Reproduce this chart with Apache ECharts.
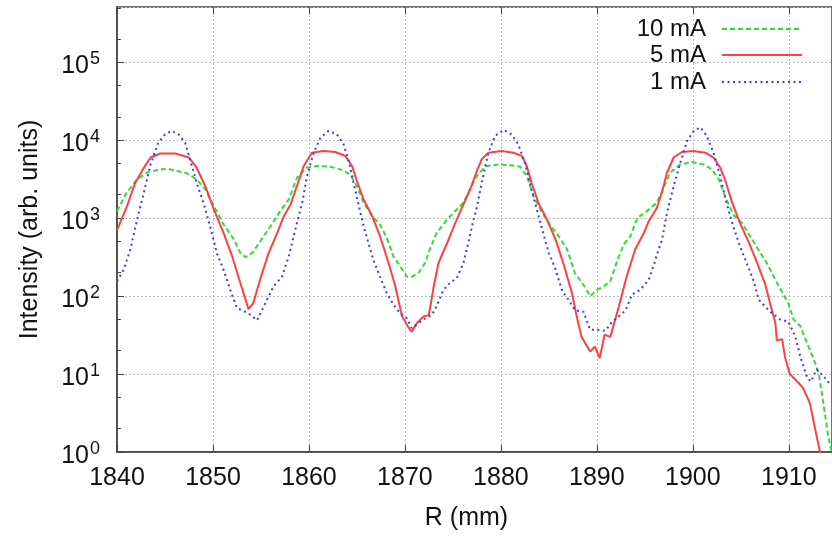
<!DOCTYPE html>
<html>
<head>
<meta charset="utf-8">
<script src="https://cdn.jsdelivr.net/npm/echarts@6/dist/echarts.min.js"></script>
<style>
  html, body { margin: 0; padding: 0; background: #fff; }
  #main { width: 832px; height: 536px; }
</style>
</head>
<body>
<div id="main"></div>
<script>
// R (mm) / intensity pairs
var curve10mA = [
  [1840, 1230], [1841, 2120], [1842.1, 3150], [1843.1, 3820], [1844.2, 4150], [1845.2, 4320],
  [1846.25, 4030], [1847.3, 3760], [1848.3, 3150], [1849.2, 2350], [1850.1, 1430], [1851.1, 830],
  [1852.2, 530], [1852.85, 358], [1853.4, 316], [1854.1, 358], [1854.9, 500], [1856, 790],
  [1857, 1230], [1857.9, 1740], [1858.75, 3300], [1859.8, 4460], [1860.8, 4680], [1862.2, 4570],
  [1863.3, 4230], [1864.3, 3650], [1865, 2570], [1865.7, 1580], [1866.6, 1060], [1867.4, 830],
  [1868.1, 560], [1868.8, 324], [1869.5, 242], [1870.2, 178], [1870.7, 176], [1871.4, 198],
  [1872.1, 266], [1872.6, 400], [1873.3, 646], [1874.4, 960], [1875.4, 1290], [1876.1, 1580],
  [1876.8, 2350], [1877.5, 3500], [1878.4, 4640], [1879.9, 4900], [1881, 4780], [1882, 4570],
  [1882.7, 3470], [1883.4, 1920], [1884.3, 1170], [1885.1, 830], [1886, 590], [1886.9, 400],
  [1887.7, 198], [1888.6, 140], [1889.3, 100], [1890, 120], [1890.7, 133], [1891.4, 155],
  [1892.1, 280], [1892.8, 460], [1893.5, 590], [1894.2, 1000], [1895.2, 1230], [1896.25, 1580],
  [1896.9, 2350], [1897.6, 3800], [1898.7, 4900], [1899.9, 5250], [1901.1, 4900], [1902, 4230],
  [1902.7, 3150], [1903.4, 1830], [1904.25, 1100], [1905.1, 870], [1906, 580], [1906.85, 390],
  [1907.7, 266], [1908.6, 162], [1909.45, 104], [1909.95, 81], [1910.5, 50], [1911.2, 41],
  [1911.9, 25], [1912.6, 15.5], [1913.1, 10.5], [1913.6, 4.3], [1914.1, 1.6], [1914.5, 0.95],
  [1914.8, 0.5]
];
var curve5mA = [
  [1840, 700], [1841.04, 1430], [1841.9, 2850], [1842.8, 4450], [1843.5, 6000], [1844.5, 6750],
  [1846.1, 6750], [1847.5, 6000], [1848.3, 4450], [1849.2, 2570], [1850.1, 1290], [1851.1, 646],
  [1852, 324], [1852.85, 147], [1853.7, 68], [1854.2, 81], [1854.9, 162], [1855.8, 357],
  [1856.7, 646], [1857.4, 1070], [1858.1, 1510], [1858.75, 2600], [1859.45, 4640], [1860.3, 6930],
  [1861.5, 7270], [1862.75, 7070], [1863.8, 6280], [1864.5, 4640], [1865, 3000], [1865.7, 1740],
  [1866.6, 1060], [1867.4, 590], [1868.3, 266], [1869, 133], [1869.7, 55], [1870.4, 39],
  [1870.7, 35], [1871.25, 45], [1871.95, 55], [1872.5, 57], [1873, 133], [1873.5, 266],
  [1874.4, 480], [1875.25, 870], [1876.1, 1510], [1876.8, 2350], [1877.5, 4030], [1878, 5700],
  [1878.7, 6930], [1880.1, 7270], [1881.3, 6930], [1882.2, 6280], [1882.7, 4640], [1883.2, 2850],
  [1883.9, 1580], [1884.8, 960], [1885.7, 530], [1886.5, 266], [1887.4, 110], [1887.9, 55],
  [1888.4, 30], [1889.3, 19.5], [1889.8, 22.5], [1890.3, 16], [1890.8, 32], [1891.4, 30],
  [1892.3, 74], [1893.1, 178], [1894, 400], [1894.9, 646], [1895.4, 910], [1896.25, 1350],
  [1896.8, 2200], [1897.3, 3800], [1898, 6000], [1898.85, 7070], [1900.05, 7270], [1901.3, 6930],
  [1902.15, 6000], [1902.85, 4460], [1903.4, 3000], [1904.1, 1580], [1904.9, 870], [1905.8, 500],
  [1906.7, 266], [1907.5, 147], [1908.05, 81], [1908.6, 45], [1908.75, 27], [1909.3, 28],
  [1909.6, 16.6], [1910.1, 10], [1910.8, 8.2], [1911.5, 6.6], [1912.2, 4.2], [1912.7, 2.1],
  [1913.25, 1], [1913.6, 0.5]
];
var curve1mA = [
  [1840, 155], [1840.7, 219], [1841.4, 400], [1842.1, 960], [1842.8, 2130], [1843.5, 4900],
  [1844.3, 9300], [1845, 11900], [1845.7, 13200], [1846.4, 11900], [1847.1, 9300], [1847.6, 5700],
  [1848.3, 2850], [1849, 1580], [1849.7, 790], [1850.4, 358], [1851.1, 219], [1851.8, 120],
  [1852.5, 70], [1853, 66], [1853.7, 60], [1854.6, 49], [1855.45, 81], [1856.3, 133],
  [1857.2, 178], [1857.9, 324], [1858.75, 870], [1859.3, 1580], [1859.8, 3470], [1860.5, 6930],
  [1861.2, 10800], [1862.05, 13200], [1862.9, 11900], [1863.6, 8900], [1864.1, 5700], [1864.65, 2850],
  [1865.2, 1430], [1865.7, 790], [1866.2, 480], [1866.7, 295], [1867.4, 178], [1868.1, 110],
  [1868.8, 78], [1869.5, 60], [1870.2, 52], [1870.7, 39], [1871.4, 45], [1872.1, 52],
  [1872.8, 57], [1873.3, 74], [1874, 120], [1874.7, 148], [1875.4, 170], [1876.1, 266],
  [1876.6, 480], [1877.15, 960], [1877.5, 1380], [1878, 2850], [1878.7, 6930], [1879.4, 11400],
  [1880.3, 13600], [1881.1, 11900], [1881.8, 8900], [1882.5, 5150], [1883.05, 2700], [1883.75, 1290],
  [1884.4, 646], [1885, 357], [1885.7, 219], [1886.4, 115], [1887.05, 90], [1887.7, 66],
  [1888.6, 63], [1889.3, 37], [1890, 37], [1890.9, 36], [1891.6, 47], [1892.3, 55],
  [1893, 66], [1893.65, 104], [1894.5, 120], [1895.4, 162], [1895.9, 242], [1896.25, 340],
  [1896.8, 535], [1897.3, 1170], [1898, 2570], [1898.7, 5150], [1899.4, 9800], [1900.1, 13200],
  [1900.8, 14600], [1901.45, 11400], [1902.15, 6930], [1902.85, 3470], [1903.5, 1580], [1904.2, 790],
  [1904.9, 440], [1905.6, 266], [1906.3, 162], [1906.85, 91], [1907.5, 74], [1908.2, 61],
  [1909.1, 50], [1909.95, 47], [1910.7, 30], [1911.2, 16.6], [1911.9, 9.1], [1912.3, 8],
  [1912.9, 11.5], [1913.6, 9.4], [1914.3, 7.4], [1914.6, 7]
];
var seriesNames = ['10 mA', '5 mA', '1 mA'];
var minorTickValues = [2, 5, 20, 50, 200, 500, 2000, 5000, 20000, 50000, 200000, 500000];

var xMin = 1840, xMax = 1914.5;
var yMin = 1, yMax = 512000;

var myChart = echarts.init(document.getElementById('main'));
var font = 'Liberation Sans, Arial, sans-serif';
var gridLine = { show: true, lineStyle: { color: '#bdbdbd', width: 1, type: [2, 2] } };

// legend: one per entry so the samples line up on the right
function legendRow(name, top) {
  return {
    data: [name], orient: 'vertical', align: 'right', right: 29, top: top,
    padding: 0, itemWidth: 80, itemHeight: 14, selectedMode: false,
    itemStyle: { color: 'rgba(0,0,0,0)', borderWidth: 0, opacity: 0 },
    textStyle: { fontFamily: font, fontSize: 24, color: '#111', padding: [0, 11, 0, 0] }
  };
}

var option = {
  backgroundColor: '#fff',
  animation: false,
  grid: { left: 117, right: 0, top: 7, bottom: 83, show: true, borderColor: '#444', borderWidth: 1.5 },
  legend: [legendRow(seriesNames[0], 17), legendRow(seriesNames[1], 43), legendRow(seriesNames[2], 70)],
  xAxis: [{
    type: 'value', min: xMin, max: xMax, interval: 10,
    name: 'R (mm)', nameLocation: 'middle', nameGap: 54,
    nameTextStyle: { fontFamily: font, fontSize: 25, color: '#111', padding: [0, 16, 0, 0] },
    axisLine: { show: true, lineStyle: { color: '#444', width: 1.5 } },
    axisTick: { inside: true, length: 7, lineStyle: { color: '#444' } },
    axisLabel: {
      fontFamily: font, fontSize: 25, color: '#111', margin: 14, showMaxLabel: false,
      formatter: function (v) { return String(v); }
    },
    splitLine: gridLine
  }, {
    type: 'value', min: xMin, max: xMax, interval: 10, position: 'top',
    axisLine: { show: false },
    axisTick: { inside: true, length: 7, lineStyle: { color: '#444' } },
    axisLabel: { show: false }, splitLine: { show: false }
  }],
  yAxis: [{
    type: 'log', logBase: 10, min: yMin, max: yMax,
    name: 'Intensity (arb. units)', nameLocation: 'middle', nameGap: 74,
    nameTextStyle: { fontFamily: font, fontSize: 25, color: '#111' },
    axisLine: { show: true, lineStyle: { color: '#444', width: 1.5 } },
    axisTick: { inside: true, length: 7, lineStyle: { color: '#444' } },
    axisLabel: {
      margin: 17, showMaxLabel: false, padding: [8, 0, 0, 0],
      formatter: function (v) {
        return '{b|10}{s|' + Math.round(Math.log10(v)) + '}';
      },
      rich: {
        b: { fontFamily: font, fontSize: 25, color: '#111' },
        s: { fontFamily: font, fontSize: 18, color: '#111', padding: [0, 0, 14, 1] }
      }
    },
    splitLine: gridLine
  }, {
    type: 'log', logBase: 10, min: yMin, max: yMax, position: 'left',
    axisLine: { show: false },
    axisTick: { inside: true, length: 4, customValues: minorTickValues, lineStyle: { color: '#444' } },
    axisLabel: { show: false }, splitLine: { show: false }
  }],
  series: [{
    name: seriesNames[0], type: 'line', data: curve10mA, symbol: 'none',
    lineStyle: { color: '#33dd33', width: 2, type: [5, 3] }, itemStyle: { color: '#33dd33' }
  }, {
    name: seriesNames[1], type: 'line', data: curve5mA, symbol: 'none',
    lineStyle: { color: '#ff4040', width: 2 }, itemStyle: { color: '#ff4040' }
  }, {
    name: seriesNames[2], type: 'line', data: curve1mA, symbol: 'none',
    lineStyle: { color: '#3a3aff', width: 2, type: [2, 3.5] }, itemStyle: { color: '#3a3aff' }
  }]
};
myChart.setOption(option);
</script>
</body>
</html>
